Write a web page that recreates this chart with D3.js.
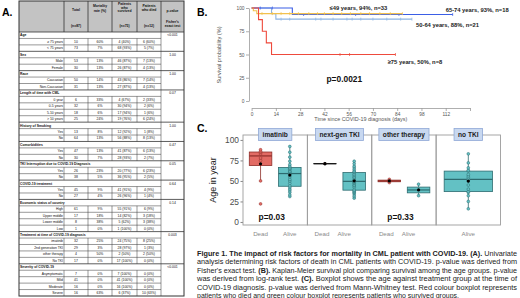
<!DOCTYPE html>
<html>
<head>
<meta charset="utf-8">
<script src="https://cdn.jsdelivr.net/npm/d3@7"></script>
<style>
  body { margin: 0; background: #fff; }
  svg { display: block; font-family: "Liberation Sans", Arial, sans-serif; }
</style>
</head>
<body>
<script>
// ---------- Panel A : univariate table ----------
var sectionTitles = ["Age", "Sex", "Race", "Length of time with CML", "History of Smoking", "Comorbidities",
  "TKI Interruption due to COVID-19 Diagnosis", "COVID-19 treatment", "Economic status of country",
  "Treatment at time of COVID-19 diagnosis", "Severity of COVID-19"];
var sectionPValues = ["<0.001", "1.00", "1.00", "0.07", "1.00", "0.47", "0.05", "0.64", "0.14", "0.003", "<0.001"];
var rowLabels = [["≥ 75 years", "< 75 years"], ["Male", "Female"], ["Caucasian", "Non-Caucasian"],
  ["0 year", "0-5 years", "5-10 years", "> 10 years"], ["Yes", "No"], ["Yes", "No"], ["Yes", "No"], ["Yes", "No"],
  ["High", "Upper middle", "Lower middle", "Low"], ["imatinib", "2nd generation TKI", "other therapy", "No TKI"],
  ["Asymptomatic", "Mild", "Moderate", "Severe"]];
var rowTotals = [[10, 73], [53, 30], [50, 31], [6, 32, 18, 25], [13, 64], [47, 30], [26, 38], [45, 27],
  [61, 17, 8, 1], [32, 29, 4, 17], [7, 41, 16, 16]];
var rowMortality = [["60%", "7%"], ["13%", "13%"], ["14%", "13%"], ["33%", "6%", "6%", "24%"], ["8%", "13%"],
  ["13%", "7%"], ["23%", "5%"], ["9%", "4%"], ["9%", "18%", "38%", "0%"], ["25%", "3%", "50%", "0%"],
  ["0%", "0%", "0%", "63%"]];
var rowSurvived = [["4 (40%)", "68 (93%)"], ["46 (87%)", "26 (87%)"], ["43 (86%)", "27 (87%)"],
  ["4 (67%)", "30 (94%)", "17 (94%)", "19 (76%)"], ["12 (92%)", "56 (88%)"], ["41 (87%)", "28 (93%)"],
  ["20 (77%)", "36 (95%)"], ["41 (91%)", "26 (96%)"], ["55 (91%)", "14 (82%)", "5 (62%)", "1 (100%)"],
  ["24 (75%)", "28 (97%)", "2 (50%)", "17 (100%)"], ["7 (100%)", "41 (100%)", "16 (100%)", "6 (37%)"]];
var rowDied = [["6 (60%)", "5 (7%)"], ["7 (13%)", "4 (13%)"], ["7 (14%)", "4 (13%)"],
  ["2 (33%)", "2 (6%)", "1 (6%)", "6 (24%)"], ["1 (8%)", "8 (13%)"], ["6 (13%)", "2 (7%)"],
  ["6 (23%)", "2 (5%)"], ["4 (9%)", "1 (4%)"], ["6 (9%)", "3 (18%)", "3 (38%)", "0 (0%)"],
  ["8 (25%)", "1 (3%)", "2 (50%)", "0 (0%)"], ["0 (0%)", "0 (0%)", "0 (0%)", "10 (63%)"]];

// ---------- Panel B : Kaplan-Meier ----------
var kmLabels = ["50-64 years, 88%, n=21", "65-74 years, 93%, n=18", "≤49 years, 94%, n=33", "≥75 years, 50%, n=8"];
var kmColors = ["#8db4e2", "#3b5ee6", "#f2c14e", "#ee4a3c"];
var kmTimes = [[0, 11.5, 14, 92.5], [0, 23.5, 116], [0, 1, 3, 87], [0, 4, 6.2, 8.5, 11.5, 83]];
var kmSurvival = [[100, 94, 88, 88], [100, 93, 93], [100, 97, 94, 94], [100, 87.5, 75, 62.5, 50, 50]];
var kmCensored = [[17, 22, 37, 40, 47, 55, 58, 63, 70, 78, 86, 92.5], [5, 12, 30, 60, 85, 116],
  [6, 12, 17, 22, 27, 33, 38, 42, 47, 52, 57, 63, 68, 74, 80, 87], [51, 56.5, 83]];
var kmTicks = [0, 14, 28, 42, 56, 70, 84, 98, 112, 126];

// ---------- Panel C : age by treatment ----------
var treatGroups = ["imatinib", "next-gen TKI", "other therapy", "no TKI"];
var deadAges = [[22, 50, 75, 78, 83, 85, 86, 88], [71], [48, 52], []];
var aliveAges = [
  [31, 33, 36, 38, 40, 42, 44, 47, 50, 52, 55, 58, 60, 61, 62, 64, 65, 66, 68, 70, 74, 79, 85, 92],
  [29, 31, 33, 35, 36, 37, 38, 39, 42, 44, 45, 47, 48, 49, 50, 52, 54, 55, 57, 58, 60, 61, 62, 64, 66, 68, 71, 74],
  [32, 46],
  [16, 25, 32, 36, 37, 40, 45, 50, 52, 54, 56, 58, 62, 63, 66, 72, 83]];
var groupPValues = ["p=0.03", "", "p=0.33", ""];
var ageTicks = [0, 25, 50, 75, 100];

var captionLines = [
  ["Figure 1. The impact of risk factors for mortality in CML patient with COVID-19. (A).", " Univariate"],
  ["", "analysis determining risk factors of death in CML patients with COVID-19. p-value was derived from"],
  ["", "Fisher's exact test. ", "(B).", " Kaplan-Meier survival plot comparing survival among the age groups. p-value"],
  ["", "was derived from log-rank test. ", "(C).", " Boxplot shows the age against treatment group at the time of"],
  ["", "COVID-19 diagnosis. p-value was derived from Mann-Whitney test. Red colour boxplot represents"],
  ["", "patients who died and green colour boxplot represents patients who survived groups."]];

var svg = d3.select("body").append("svg")
    .attr("width", 520)
    .attr("height", 298);

// panel letters
svg.append("text").attr("x", 2).attr("y", 16).text("A.")
    .attr("font-size", 10.5).attr("font-weight", "bold");
svg.append("text").attr("x", 197).attr("y", 15.5).text("B.")
    .attr("font-size", 10.5).attr("font-weight", "bold");
svg.append("text").attr("x", 197).attr("y", 132).text("C.")
    .attr("font-size", 10.5).attr("font-weight", "bold");

// ================= TABLE =================
var colEdges = [19, 64, 88, 112, 137, 161, 184];
var headTop = 1, headBottom = 32;
var rows = [];
sectionTitles.forEach(function(t, i) {
  rows.push({sec: true, label: t, p: sectionPValues[i]});
  rowLabels[i].forEach(function(l, j) {
    rows.push({sec: false, label: l,
      vals: [rowTotals[i][j], rowMortality[i][j], rowSurvived[i][j], rowDied[i][j]]});
  });
});
var rowY = d3.scaleLinear().domain([0, rows.length]).range([headBottom, 296]);

var tab = svg.append("g").attr("font-size", 3.4).attr("fill", "#111");
tab.append("rect")
    .attr("x", colEdges[0]).attr("y", headTop)
    .attr("width", colEdges[6] - colEdges[0]).attr("height", headBottom - headTop)
    .attr("fill", "#c3c3c3");

var header = [
  [],
  [["Total", 10], ["(n=87)", 26]],
  [["Mortality", 5.7], ["rate (%)", 11]],
  [["Patients", 4], ["who", 7.5], ["survived", 11], ["(n=75)", 26]],
  [["Patients", 5.7], ["who died", 10], ["(n=12)", 26]],
  [["p-value", 10.5], ["Fisher's", 21.7], ["exact test", 26]]
];
header.forEach(function(lines, c) {
  lines.forEach(function(l) {
    tab.append("text")
        .attr("x", (colEdges[c] + colEdges[c + 1]) / 2)
        .attr("y", l[1] + 1.2)
        .attr("text-anchor", "middle")
        .attr("font-weight", "bold")
        .text(l[0]);
  });
});

rows.forEach(function(r, i) {
  var y0 = rowY(i), y1 = rowY(i + 1), yc = (y0 + y1) / 2 + 1.2;
  if (r.sec) {
    tab.append("text").attr("x", colEdges[0] + 1).attr("y", yc)
        .attr("font-weight", "bold").text(r.label);
    tab.append("text").attr("x", (colEdges[5] + colEdges[6]) / 2).attr("y", yc)
        .attr("text-anchor", "middle").text(r.p);
  } else {
    tab.append("text").attr("x", colEdges[1] - 1).attr("y", yc)
        .attr("text-anchor", "end").text(r.label);
    r.vals.forEach(function(v, k) {
      tab.append("text").attr("x", (colEdges[k + 1] + colEdges[k + 2]) / 2).attr("y", yc)
          .attr("text-anchor", "middle").text(v);
    });
  }
});

// table lines
var lines = tab.append("g").attr("stroke", "#333").attr("stroke-width", 0.5);
rows.forEach(function(r, i) {
  var y0 = rowY(i), y1 = rowY(i + 1);
  lines.append("line").attr("x1", colEdges[0]).attr("x2", r.sec ? colEdges[6] : colEdges[5])
      .attr("y1", y0).attr("y2", y0).attr("stroke-width", r.sec ? 0.8 : 0.5);
  var xs = r.sec ? [colEdges[5]] : colEdges.slice(1, 6);
  xs.forEach(function(x) {
    lines.append("line").attr("x1", x).attr("x2", x).attr("y1", y0).attr("y2", y1);
  });
});
colEdges.slice(1, 6).forEach(function(x) {
  lines.append("line").attr("x1", x).attr("x2", x).attr("y1", headTop).attr("y2", headBottom)
      .attr("stroke-width", 0.8);
});
lines.append("rect")
    .attr("x", colEdges[0]).attr("y", headTop)
    .attr("width", colEdges[6] - colEdges[0]).attr("height", rowY(rows.length) - headTop)
    .attr("fill", "none").attr("stroke-width", 1);

// ================= KAPLAN-MEIER =================
var kx = d3.scaleLinear().domain([0, 126]).range([251.6, 470]);
var ky = d3.scaleLinear().domain([0, 100]).range([101, 8]);

var km = svg.append("g");
var yAx = km.append("g")
    .attr("transform", "translate(249,0)")
    .call(d3.axisLeft(ky).tickValues([0, 25, 50, 75, 100]).tickSize(3).tickSizeOuter(0));
var xAx = km.append("g")
    .attr("transform", "translate(0,108)")
    .call(d3.axisBottom(kx).tickValues(kmTicks).tickSize(3).tickSizeOuter(0)
      .tickFormat(function(d) { return d === 126 ? "" : d; }));
[yAx, xAx].forEach(function(a) {
  a.selectAll("path, line").attr("stroke", "#9a9a9a").attr("stroke-width", 0.8);
  a.selectAll("text").attr("font-size", 4.8).attr("fill", "#555").attr("font-family", "Liberation Sans, Arial");
});
yAx.selectAll("text").attr("x", -4.5);
xAx.selectAll("text").attr("y", 5);

km.append("text")
    .attr("x", kx(63)).attr("y", 121)
    .attr("text-anchor", "middle").attr("font-size", 5.4).attr("fill", "#555")
    .text("Time since COVID-19 diagnosis (days)");
km.append("text")
    .attr("transform", "rotate(-90)")
    .attr("x", -55).attr("y", 221)
    .attr("text-anchor", "middle").attr("font-size", 5.6).attr("fill", "#555")
    .text("Survival probability (%)");

var stepLine = d3.line()
    .x(function(d) { return kx(d[0]); })
    .y(function(d) { return ky(d[1]); })
    .curve(d3.curveStepAfter);

kmTimes.forEach(function(times, g) {
  var pts = times.map(function(t, i) { return [t, kmSurvival[g][i]]; });
  km.append("path")
      .attr("d", stepLine(pts))
      .attr("fill", "none")
      .attr("stroke", kmColors[g])
      .attr("stroke-width", 1.1);
  // censor marks
  kmCensored[g].forEach(function(t) {
    var s = kmSurvival[g][d3.bisectRight(times, t) - 1];
    km.append("line")
        .attr("x1", kx(t)).attr("x2", kx(t))
        .attr("y1", ky(s) - 1.5).attr("y2", ky(s) + 1.5)
        .attr("stroke", kmColors[g]).attr("stroke-width", 0.7);
  });
});

var kmLabelPos = [[416, 27], [445.7, 12], [329.5, 9.5], [387.7, 64]];
kmLabels.forEach(function(l, g) {
  km.append("text")
      .attr("x", kmLabelPos[g][0]).attr("y", kmLabelPos[g][1])
      .attr("font-size", 5.8).attr("font-weight", "bold").attr("fill", "#222")
      .text(l);
});
km.append("text")
    .attr("x", 326.5).attr("y", 82)
    .attr("font-size", 8.4).attr("font-weight", "bold").attr("fill", "#111")
    .text("p=0.0021");

// ================= BOXPLOTS =================
var cLeft = 243, cRight = 500.5, cTop = 135, cBottom = 225;
var panelW = (cRight - cLeft) / treatGroups.length;
var cy = d3.scaleLinear().domain([-3.7, 106]).range([cBottom, cTop]);
var deadFill = "#e26b64", deadStroke = "#8e2f2a";
var aliveFill = "#63c1c4", aliveStroke = "#2d6b6f";
var labelShift = [[0, 0], [-3, -10], [-3, -10], [0]];

var bx = svg.append("g");

// y axis
var cAx = bx.append("g")
    .attr("transform", "translate(" + cLeft + ",0)")
    .call(d3.axisLeft(cy).tickValues(ageTicks).tickSize(2.5).tickSizeOuter(0));
cAx.select(".domain").remove();
cAx.selectAll("line").attr("stroke", "#666").attr("stroke-width", 0.8);
cAx.selectAll("text").attr("font-size", 8.4).attr("fill", "#4d4d4d")
    .attr("font-family", "Liberation Sans, Arial").attr("x", -4);

bx.append("text")
    .attr("transform", "rotate(-90)")
    .attr("x", -(cTop + cBottom) / 2).attr("y", 216)
    .attr("text-anchor", "middle").attr("font-size", 9).attr("fill", "#222")
    .text("Age in year");

function boxStats(vals) {
  var s = vals.slice().sort(d3.ascending);
  var q1 = d3.quantile(s, 0.25), med = d3.quantile(s, 0.5), q3 = d3.quantile(s, 0.75);
  var iqr = q3 - q1;
  var inside = s.filter(function(v) { return v >= q1 - 1.5 * iqr && v <= q3 + 1.5 * iqr; });
  return {q1: q1, med: med, q3: q3, lo: d3.min(inside), hi: d3.max(inside), mean: d3.mean(s)};
}

treatGroups.forEach(function(name, i) {
  var px0 = cLeft + i * panelW;
  var cats = deadAges[i].length ? ["Dead", "Alive"] : ["Alive"];
  var cx = d3.scalePoint().domain(cats).range([px0, px0 + panelW]).padding(0.6);
  var bw = cx.step() * (cats.length === 1 ? 0.9 : 0.77);
  var g = bx.append("g");

  cats.forEach(function(cat, k) {
    var vals = cat === "Dead" ? deadAges[i] : aliveAges[i];
    var st = boxStats(vals);
    var fill = cat === "Dead" ? deadFill : aliveFill;
    var stroke = cat === "Dead" ? deadStroke : aliveStroke;
    var xc = cx(cat);
    if (vals.length === 1) stroke = "#111";
    g.append("line")
        .attr("x1", xc).attr("x2", xc).attr("y1", cy(st.lo)).attr("y2", cy(st.hi))
        .attr("stroke", stroke).attr("stroke-width", 0.8);
    g.append("rect")
        .attr("x", xc - bw / 2).attr("width", bw)
        .attr("y", cy(st.q3)).attr("height", Math.max(0.01, cy(st.q1) - cy(st.q3)))
        .attr("fill", fill).attr("stroke", stroke).attr("stroke-width", 0.8);
    g.append("line")
        .attr("x1", xc - bw / 2).attr("x2", xc + bw / 2).attr("y1", cy(st.med)).attr("y2", cy(st.med))
        .attr("stroke", stroke).attr("stroke-width", 1.2);
    g.selectAll(null).data(vals).enter().append("circle")
        .attr("cx", xc).attr("cy", function(d) { return cy(d); })
        .attr("r", 1.4)
        .attr("fill", fill).attr("stroke", stroke).attr("stroke-width", 0.5);
    g.append("circle")
        .attr("cx", xc).attr("cy", cy(st.mean)).attr("r", 1.6).attr("fill", "#000");
    // x labels under the panel
    bx.append("text")
        .attr("x", xc + labelShift[i][k]).attr("y", 235.5)
        .attr("text-anchor", "middle").attr("font-size", 6.2).attr("fill", "#8a8a8a")
        .text(cat);
  });

  if (groupPValues[i]) {
    bx.append("text")
        .attr("x", px0 + panelW / 2 - 3.5).attr("y", 220)
        .attr("text-anchor", "middle").attr("font-size", 8.4).attr("font-weight", "bold").attr("fill", "#111")
        .text(groupPValues[i]);
  }

  // panel frame
  bx.append("rect")
      .attr("x", px0).attr("y", cTop).attr("width", panelW).attr("height", cBottom - cTop)
      .attr("fill", "none").attr("stroke", "#9c9c9c").attr("stroke-width", 0.9);
});

// facet strips, drawn over the frames
treatGroups.forEach(function(name, i) {
  var pxc = cLeft + (i + 0.5) * panelW;
  var t = bx.append("text")
      .attr("x", pxc).attr("y", 137.3)
      .attr("text-anchor", "middle").attr("font-size", 6.6).attr("font-weight", "bold").attr("fill", "#1c1c1c")
      .text(name);
  var w = t.node().getComputedTextLength() + 8;
  bx.insert("rect", function() { return t.node(); })
      .attr("x", pxc - w / 2).attr("y", 128.5).attr("width", w).attr("height", 12)
      .attr("fill", "#c8d8f0").attr("stroke", "#8fa9d6").attr("stroke-width", 0.8);
});

// ================= CAPTION =================
var cap = svg.append("g").attr("font-family", "Liberation Sans, Arial").attr("font-size", 6.6).attr("fill", "#222");
captionLines.forEach(function(parts, i) {
  var t = cap.append("text")
      .attr("x", 197).attr("y", 255.5 + i * 8.5)
      .attr("lengthAdjust", "spacingAndGlyphs")
      .attr("textLength", i === captionLines.length - 1 ? 262 : 320);
  parts.forEach(function(p, k) {
    if (!p) return;
    var bold = (i === 0 && k === 0) || (i >= 2 && k === 2);
    t.append("tspan").attr("font-weight", bold ? "bold" : "normal").text(p);
  });
});
</script>
</body>
</html>
